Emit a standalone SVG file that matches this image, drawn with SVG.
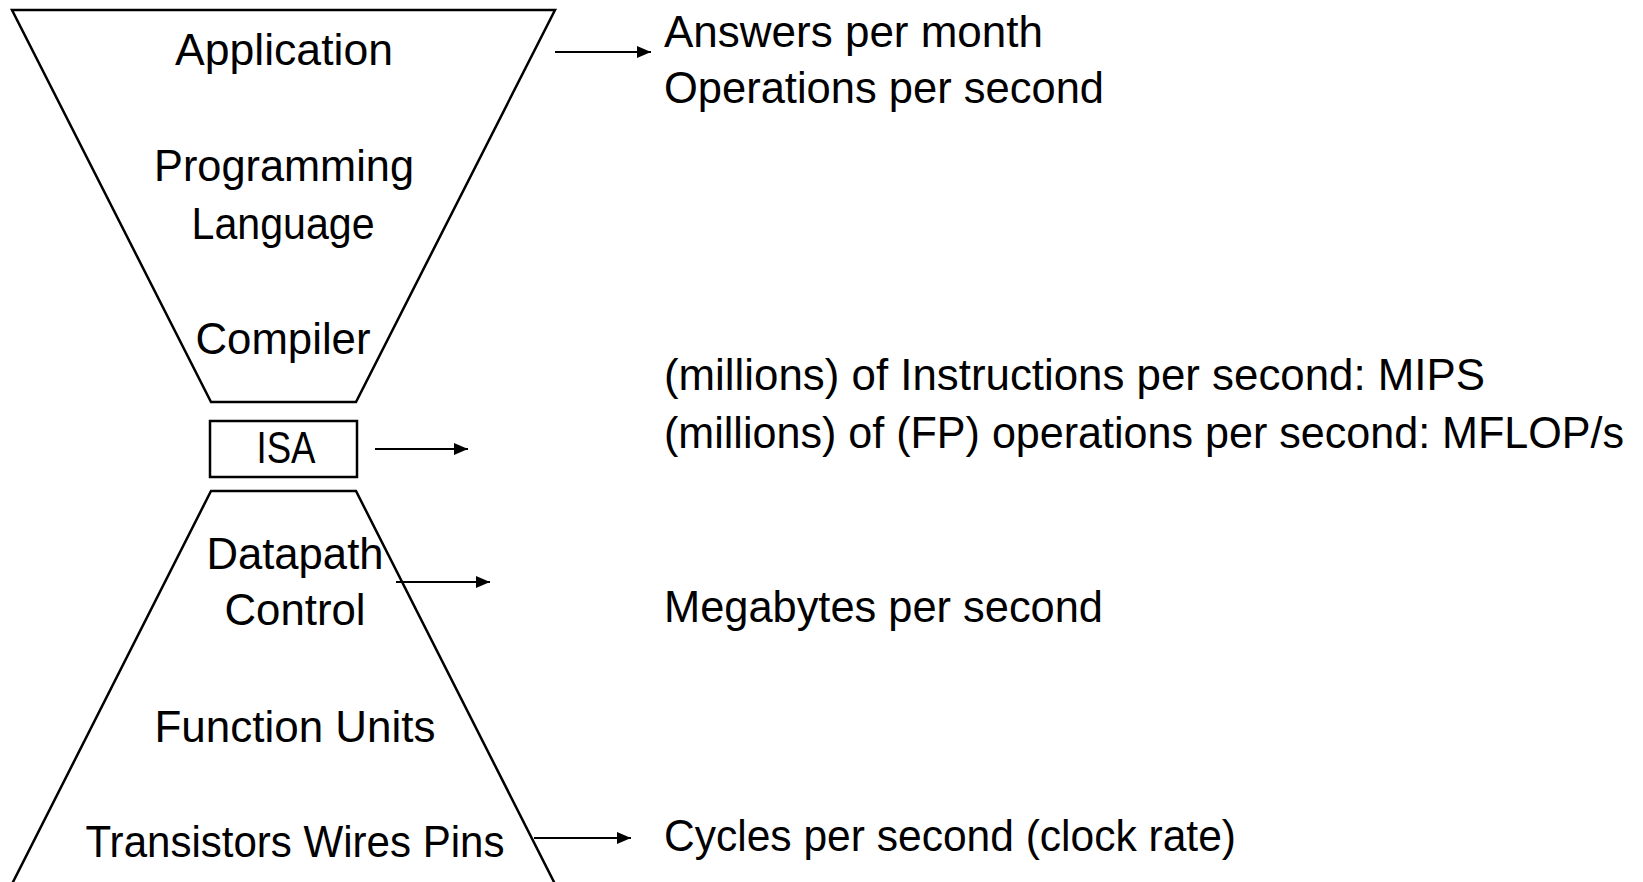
<svg xmlns="http://www.w3.org/2000/svg" width="1643" height="882" viewBox="0 0 1643 882">
<defs>
<marker id="ah" markerWidth="14" markerHeight="12" refX="14" refY="6" orient="auto" markerUnits="userSpaceOnUse">
<path d="M0,0 L14,6 L0,12 Z" fill="#000"/>
</marker>
<style>
.shape{fill:#fff;stroke:#000;stroke-width:2.5;stroke-linejoin:miter}
.conn{stroke:#000;stroke-width:1.8;fill:none;marker-end:url(#ah)}
text{font-family:"Liberation Sans",Arial,sans-serif;font-size:44px;fill:#000}
.c{text-anchor:middle}
</style>
</defs>
<rect width="1643" height="882" fill="#fff"/>
<g id="top-funnel">
<path class="shape" d="M12,10 L555,10 L356,402 L211,402 Z"/>
<text class="c" x="284" y="65" textLength="218" lengthAdjust="spacingAndGlyphs">Application</text>
<text class="c" x="284" y="181" textLength="260" lengthAdjust="spacingAndGlyphs">Programming</text>
<text class="c" x="283" y="239" textLength="183" lengthAdjust="spacingAndGlyphs">Language</text>
<text class="c" x="283" y="354" textLength="175" lengthAdjust="spacingAndGlyphs">Compiler</text>
</g>
<g id="isa">
<rect class="shape" x="210" y="421" width="147" height="56"/>
<text class="c" x="286" y="463" textLength="59" lengthAdjust="spacingAndGlyphs">ISA</text>
</g>
<g id="bottom-funnel">
<path class="shape" d="M12,884 L211,491 L356,491 L555,884"/>
<text class="c" x="295" y="569" textLength="177" lengthAdjust="spacingAndGlyphs">Datapath</text>
<text class="c" x="295" y="625" textLength="141" lengthAdjust="spacingAndGlyphs">Control</text>
<text class="c" x="295" y="742" textLength="281" lengthAdjust="spacingAndGlyphs">Function Units</text>
<text class="c" x="295" y="857" textLength="419" lengthAdjust="spacingAndGlyphs">Transistors Wires Pins</text>
</g>
<g id="connectors">
<line class="conn" x1="555" y1="52" x2="651" y2="52"/>
<line class="conn" x1="375" y1="449" x2="468" y2="449"/>
<line class="conn" x1="396" y1="582" x2="490" y2="582"/>
<line class="conn" x1="534" y1="838" x2="631" y2="838"/>
</g>
<g id="metrics">
<text x="664" y="47" textLength="379" lengthAdjust="spacingAndGlyphs">Answers per month</text>
<text x="664" y="103" textLength="440" lengthAdjust="spacingAndGlyphs">Operations per second</text>
<text x="664" y="390" textLength="821" lengthAdjust="spacingAndGlyphs">(millions) of Instructions per second: MIPS</text>
<text x="664" y="448" textLength="960" lengthAdjust="spacingAndGlyphs">(millions) of (FP) operations per second: MFLOP/s</text>
<text x="664" y="622" textLength="439" lengthAdjust="spacingAndGlyphs">Megabytes per second</text>
<text x="664" y="851" textLength="572" lengthAdjust="spacingAndGlyphs">Cycles per second (clock rate)</text>
</g>
</svg>
